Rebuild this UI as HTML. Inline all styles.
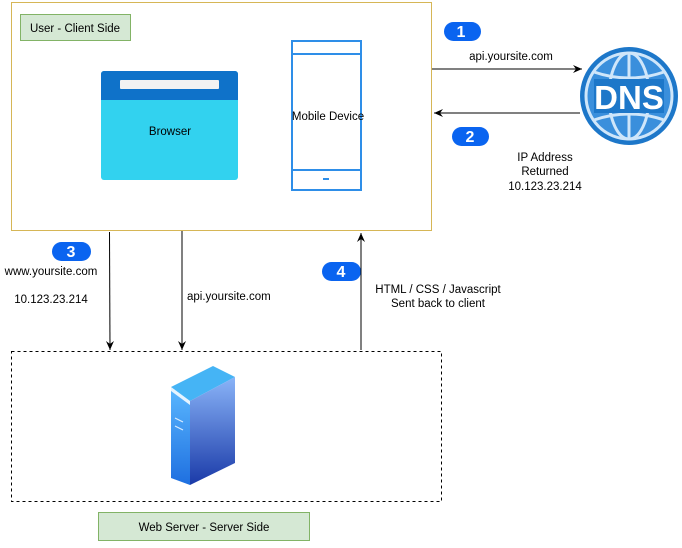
<!DOCTYPE html>
<html><head><meta charset="utf-8"><style>
body{margin:0;background:#fff;width:682px;height:543px;overflow:hidden}
svg text{font-family:"Liberation Sans",Arial,sans-serif;font-size:11.5px;fill:#000}
</style></head><body>
<svg width="682" height="543" viewBox="0 0 682 543" xmlns="http://www.w3.org/2000/svg">
<defs>
<marker id="ar" markerWidth="10" markerHeight="10" refX="9" refY="5" orient="auto" markerUnits="userSpaceOnUse"><path d="M0,1 L9,5 L0,9 L3,5 Z" fill="#000"/></marker>
<linearGradient id="sf" x1="0" y1="0" x2="0" y2="1"><stop offset="0" stop-color="#8ab4f8"/><stop offset="1" stop-color="#1a3aa8"/></linearGradient>
<linearGradient id="sl" x1="0" y1="0" x2="0" y2="1"><stop offset="0" stop-color="#5bb8ff"/><stop offset="1" stop-color="#1e6fe0"/></linearGradient>
</defs>
<rect x="11.5" y="2.5" width="420" height="228" fill="#fff" stroke="#d6b656"/>
<rect x="20.5" y="14.5" width="110" height="26" fill="#d5e8d4" stroke="#82b366"/>
<text x="75" y="32" text-anchor="middle">User - Client Side</text>
<rect x="101" y="71" width="137" height="109" rx="3" fill="#32d2ef"/>
<path d="M101,100 V74 a3,3 0 0 1 3,-3 H235 a3,3 0 0 1 3,3 V100 Z" fill="#0f72c9"/>
<rect x="120" y="80" width="99" height="9" rx="1" fill="#f2f2f2"/>
<text x="170" y="135" text-anchor="middle">Browser</text>
<rect x="292" y="41" width="69" height="149" fill="#fff" stroke="#2e8ee8" stroke-width="2"/>
<line x1="292" y1="54" x2="361" y2="54" stroke="#2e8ee8" stroke-width="2"/>
<line x1="292" y1="170" x2="361" y2="170" stroke="#2e8ee8" stroke-width="2"/>
<line x1="323" y1="179" x2="329" y2="179" stroke="#2e8ee8" stroke-width="2"/>
<text x="328" y="120" text-anchor="middle">Mobile Device</text>
<line x1="432" y1="69" x2="582" y2="69" stroke="#000" marker-end="url(#ar)"/>
<line x1="580" y1="113" x2="434" y2="113" stroke="#000" marker-end="url(#ar)"/>
<text x="511" y="60" text-anchor="middle">api.yoursite.com</text>
<text x="545" y="161" text-anchor="middle">IP Address</text>
<text x="545" y="175" text-anchor="middle">Returned</text>
<text x="545" y="190" text-anchor="middle">10.123.23.214</text>
<circle cx="629" cy="96" r="49" fill="#1d77c9"/>
<circle cx="629" cy="96" r="43" fill="#3a8fdc" stroke="#cfe6fa" stroke-width="3"/>
<ellipse cx="629" cy="96" rx="20" ry="43" fill="none" stroke="#cfe6fa" stroke-width="3"/>
<line x1="629" y1="53" x2="629" y2="139" stroke="#cfe6fa" stroke-width="3"/>
<path d="M594,72 Q629,84 664,72 M594,120 Q629,108 664,120" fill="none" stroke="#cfe6fa" stroke-width="3"/>
<rect x="594" y="79" width="70" height="34" fill="#1d77c9"/>
<text x="629" y="109" text-anchor="middle" style="font-size:33px;fill:#fff;font-weight:bold">DNS</text>
<rect x="444" y="22" width="37" height="19" rx="9.5" fill="#0a64f0"/><text x="461" y="37" text-anchor="middle" style="fill:#fff;font-size:16px;font-weight:bold">1</text>
<rect x="452" y="127" width="37" height="19" rx="9.5" fill="#0a64f0"/><text x="470" y="142" text-anchor="middle" style="fill:#fff;font-size:16px;font-weight:bold">2</text>
<rect x="52" y="242" width="39" height="19" rx="9.5" fill="#0a64f0"/><text x="71" y="257" text-anchor="middle" style="fill:#fff;font-size:16px;font-weight:bold">3</text>
<rect x="322" y="262" width="39" height="19" rx="9.5" fill="#0a64f0"/><text x="341" y="277" text-anchor="middle" style="fill:#fff;font-size:16px;font-weight:bold">4</text>
<line x1="109.5" y1="232" x2="110" y2="350" stroke="#000" marker-end="url(#ar)"/>
<line x1="182" y1="231" x2="182" y2="350" stroke="#000" marker-end="url(#ar)"/>
<line x1="361" y1="350" x2="361" y2="233" stroke="#000" marker-end="url(#ar)"/>
<text x="51" y="275" text-anchor="middle">www.yoursite.com</text>
<text x="51" y="303" text-anchor="middle">10.123.23.214</text>
<text x="187" y="300">api.yoursite.com</text>
<text x="438" y="293" text-anchor="middle">HTML / CSS / Javascript</text>
<text x="438" y="307" text-anchor="middle">Sent back to client</text>
<rect x="11.5" y="351.5" width="430" height="150" fill="none" stroke="#000" stroke-dasharray="3,3"/>
<rect x="98.5" y="512.5" width="211" height="28" fill="#d5e8d4" stroke="#82b366"/>
<text x="204" y="531" text-anchor="middle">Web Server - Server Side</text>
<polygon points="171,387 213,366 235,377 190,401" fill="#45b4f5"/>
<polygon points="171,387 190,401 190,485 171,478" fill="url(#sl)"/>
<polygon points="190,401 235,377 235,463 190,485" fill="url(#sf)"/>
<polygon points="171,387 190,401 190,405 171,391" fill="#e6f4ff"/>
<line x1="175" y1="418" x2="183" y2="422" stroke="#d8ecff" stroke-width="1.2"/>
<line x1="175" y1="426" x2="183" y2="430" stroke="#d8ecff" stroke-width="1.2"/>
</svg>
</body></html>
